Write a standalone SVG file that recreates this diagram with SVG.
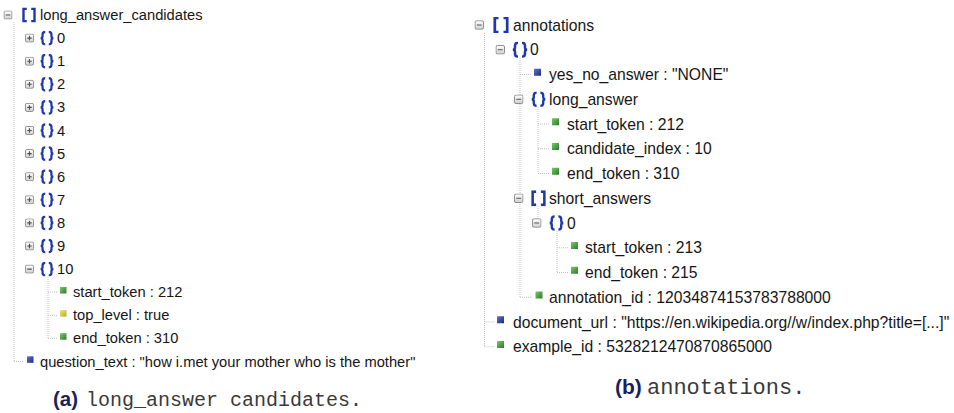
<svg xmlns="http://www.w3.org/2000/svg" width="954" height="413" viewBox="0 0 954 413">
<style>
.t{font-family:"Liberation Sans",Arial,Helvetica,sans-serif;fill:#161616}
.l{font-size:14.7px}
.r{font-size:15.7px}
.g{stroke:#c2c2c2;stroke-width:1;stroke-dasharray:1 1;fill:none}
.sg{fill:url(#gg)}
.sy{fill:url(#gy)}
.sb{fill:url(#gb)}
.cap{font-family:"Liberation Sans",Arial,sans-serif;font-weight:bold;fill:#1c1f5c}
.mono{font-family:"Liberation Mono","Courier New",monospace;fill:#3a3a3a}
</style>
<defs>
<linearGradient id="tg" x1="0" y1="0" x2="0" y2="1"><stop offset="0" stop-color="#ffffff"/><stop offset="1" stop-color="#cfcfcf"/></linearGradient>
<linearGradient id="gg" x1="0" y1="0" x2="1" y2="1"><stop offset="0" stop-color="#7cc86a"/><stop offset="1" stop-color="#2b7a2b"/></linearGradient>
<linearGradient id="gy" x1="0" y1="0" x2="1" y2="1"><stop offset="0" stop-color="#f0e878"/><stop offset="1" stop-color="#b5a920"/></linearGradient>
<linearGradient id="gb" x1="0" y1="0" x2="1" y2="1"><stop offset="0" stop-color="#6476c8"/><stop offset="1" stop-color="#1a2878"/></linearGradient>
<symbol id="tm" viewBox="0 0 10 10"><rect x="0.5" y="0.5" width="9" height="9" rx="1.6" fill="url(#tg)" stroke="#858585"/><path d="M2.5 5H7.5" stroke="#505050" stroke-width="1.2"/></symbol>
<symbol id="tp" viewBox="0 0 10 10"><rect x="0.5" y="0.5" width="9" height="9" rx="1.6" fill="url(#tg)" stroke="#858585"/><path d="M2.5 5H7.5M5 2.5V7.5" stroke="#505050" stroke-width="1.2"/></symbol>
<symbol id="arr" viewBox="0 0 18 16"><path d="M6.5 1H2.8V15H6.5M11.5 1H15.2V15H11.5" fill="none" stroke="#1f3aa8" stroke-width="2.7"/></symbol>
<symbol id="obj" viewBox="0 0 18 16"><path d="M7 1C4.6 1 4 2 4 4V6C4 7.3 3.3 8 1.8 8C3.3 8 4 8.7 4 10V12C4 14 4.6 15 7 15M11 1C13.4 1 14 2 14 4V6C14 7.3 14.7 8 16.2 8C14.7 8 14 8.7 14 10V12C14 14 13.4 15 11 15" fill="none" stroke="#1f3aa8" stroke-width="2.5"/></symbol>
</defs>
<rect width="954" height="413" fill="#ffffff"/>

<g id="connectors">
<path class="g" d="M14 22V361.5M14 361.5H23"/>
<path class="g" d="M48 277V338.4M48 292.2H57M48 315.3H57M48 338.4H57"/>
<path class="g" d="M484.5 33V346.75M484.5 322H495M484.5 346.75H495"/>
<path class="g" d="M520 58V297.25M520 74.5H531M520 297.25H532"/>
<path class="g" d="M538 107V173.5M538 124H549M538 148.75H549M538 173.5H549"/>
<path class="g" d="M538 206V223"/>
<path class="g" d="M557 231V272.5M557 247.75H568M557 272.5H568"/>
</g>

<g id="n-long_answer_candidates"><use href="#tm" x="3.5" y="10.5" width="9" height="9"/><use href="#arr" x="21" y="7.5" width="16" height="15"/><text class="t l" x="40" y="20">long_answer_candidates</text></g>
<g id="n-c0"><use href="#tp" x="25" y="33.6" width="9" height="9"/><use href="#obj" x="39" y="30.6" width="16" height="15"/><text class="t l" x="57" y="43.1">0</text></g>
<g id="n-c1"><use href="#tp" x="25" y="56.7" width="9" height="9"/><use href="#obj" x="39" y="53.7" width="16" height="15"/><text class="t l" x="57" y="66.2">1</text></g>
<g id="n-c2"><use href="#tp" x="25" y="79.8" width="9" height="9"/><use href="#obj" x="39" y="76.8" width="16" height="15"/><text class="t l" x="57" y="89.3">2</text></g>
<g id="n-c3"><use href="#tp" x="25" y="102.9" width="9" height="9"/><use href="#obj" x="39" y="99.9" width="16" height="15"/><text class="t l" x="57" y="112.4">3</text></g>
<g id="n-c4"><use href="#tp" x="25" y="126" width="9" height="9"/><use href="#obj" x="39" y="123" width="16" height="15"/><text class="t l" x="57" y="135.5">4</text></g>
<g id="n-c5"><use href="#tp" x="25" y="149.1" width="9" height="9"/><use href="#obj" x="39" y="146.1" width="16" height="15"/><text class="t l" x="57" y="158.6">5</text></g>
<g id="n-c6"><use href="#tp" x="25" y="172.2" width="9" height="9"/><use href="#obj" x="39" y="169.2" width="16" height="15"/><text class="t l" x="57" y="181.7">6</text></g>
<g id="n-c7"><use href="#tp" x="25" y="195.3" width="9" height="9"/><use href="#obj" x="39" y="192.3" width="16" height="15"/><text class="t l" x="57" y="204.8">7</text></g>
<g id="n-c8"><use href="#tp" x="25" y="218.4" width="9" height="9"/><use href="#obj" x="39" y="215.4" width="16" height="15"/><text class="t l" x="57" y="227.9">8</text></g>
<g id="n-c9"><use href="#tp" x="25" y="241.5" width="9" height="9"/><use href="#obj" x="39" y="238.5" width="16" height="15"/><text class="t l" x="57" y="251">9</text></g>
<g id="n-c10"><use href="#tm" x="25" y="264.6" width="9" height="9"/><use href="#obj" x="39" y="261.6" width="16" height="15"/><text class="t l" x="57" y="274.1">10</text></g>
<g id="n-c10-start"><rect class="sg" x="60" y="287" width="6.5" height="6.5"/><text class="t l" x="73" y="297.2">start_token : 212</text></g>
<g id="n-c10-top"><rect class="sy" x="60" y="310.1" width="6.5" height="6.5"/><text class="t l" x="73" y="320.3">top_level : true</text></g>
<g id="n-c10-end"><rect class="sg" x="60" y="333.2" width="6.5" height="6.5"/><text class="t l" x="73" y="343.4">end_token : 310</text></g>
<g id="n-question_text"><rect class="sb" x="27" y="356.3" width="6.5" height="6.5"/><text class="t l" x="40" y="366.5">question_text : "how i.met your mother who is the mother"</text></g>
<g id="cap-a"><text class="cap" x="53" y="406" font-size="20.5px">(a)</text><text class="mono" x="86" y="406" font-size="20px">long_answer candidates.</text></g>

<g id="n-annotations"><use href="#tm" x="474.5" y="20.25" width="9.5" height="9.5"/><use href="#arr" x="492" y="17" width="18" height="16"/><text class="t r" x="513" y="30.5">annotations</text></g>
<g id="n-a0"><use href="#tm" x="495.5" y="45" width="9.5" height="9.5"/><use href="#obj" x="511" y="41.75" width="18" height="16"/><text class="t r" x="530" y="55.25">0</text></g>
<g id="n-yes_no"><rect class="sb" x="534" y="68.75" width="7" height="7"/><text class="t r" x="549" y="80">yes_no_answer : "NONE"</text></g>
<g id="n-long_answer"><use href="#tm" x="514" y="94.5" width="9.5" height="9.5"/><use href="#obj" x="530" y="91.25" width="17" height="16"/><text class="t r" x="549" y="104.75">long_answer</text></g>
<g id="n-la-start"><rect class="sg" x="552" y="118.25" width="7" height="7"/><text class="t r" x="567" y="129.5">start_token : 212</text></g>
<g id="n-la-cand"><rect class="sg" x="552" y="143" width="7" height="7"/><text class="t r" x="567" y="154.25">candidate_index : 10</text></g>
<g id="n-la-end"><rect class="sg" x="552" y="167.75" width="7" height="7"/><text class="t r" x="567" y="179">end_token : 310</text></g>
<g id="n-short_answers"><use href="#tm" x="514" y="193.5" width="9.5" height="9.5"/><use href="#arr" x="530" y="190.25" width="17" height="16"/><text class="t r" x="549" y="203.75">short_answers</text></g>
<g id="n-sa0"><use href="#tm" x="532" y="218.25" width="9.5" height="9.5"/><use href="#obj" x="548" y="215" width="17" height="16"/><text class="t r" x="567" y="228.5">0</text></g>
<g id="n-sa-start"><rect class="sg" x="571" y="242" width="7" height="7"/><text class="t r" x="585" y="253.25">start_token : 213</text></g>
<g id="n-sa-end"><rect class="sg" x="571" y="266.75" width="7" height="7"/><text class="t r" x="585" y="278">end_token : 215</text></g>
<g id="n-annotation_id"><rect class="sg" x="535.5" y="291.5" width="7" height="7"/><text class="t r" x="549" y="302.75">annotation_id : 12034874153783788000</text></g>
<g id="n-document_url"><rect class="sb" x="497" y="316.25" width="7" height="7"/><text class="t r" x="513" y="327.5">document_url : "https://en.wikipedia.org//w/index.php?title=[...]"</text></g>
<g id="n-example_id"><rect class="sg" x="497" y="341" width="7" height="7"/><text class="t r" x="513" y="352.25">example_id : 5328212470870865000</text></g>
<g id="cap-b"><text class="cap" x="615" y="394" font-size="21px">(b)</text><text class="mono" x="647" y="394" font-size="22px">annotations.</text></g>
</svg>
